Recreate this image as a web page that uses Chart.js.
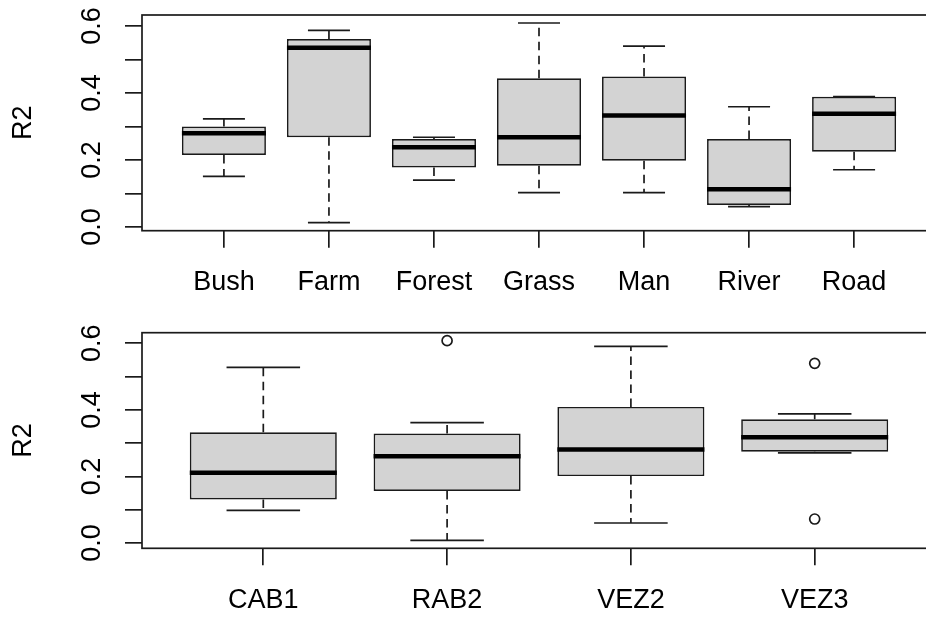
<!DOCTYPE html>
<html>
<head>
<meta charset="utf-8">
<script src="https://cdn.jsdelivr.net/npm/chart.js@4.4.1/dist/chart.umd.min.js"></script>
<style>
  html, body { margin: 0; padding: 0; background: #fff; overflow: hidden; width: 926px; height: 619px; }
  canvas.panel { position: absolute; left: 0; }
</style>
</head>
<body>
<canvas id="habitat" class="panel" width="945" height="310" style="top:0px"></canvas>
<canvas id="site" class="panel" width="945" height="309" style="top:310px"></canvas>
<script>
// R2 summaries by habitat type (whisker ends, quartiles, median)
const habitats    = ['Bush', 'Farm', 'Forest', 'Grass', 'Man', 'River', 'Road'];
const habitatLow  = [0.151, 0.013, 0.140, 0.103, 0.103, 0.061, 0.171];
const habitatQ1   = [0.215, 0.268, 0.178, 0.183, 0.198, 0.066, 0.225];
const habitatMed  = [0.280, 0.535, 0.238, 0.268, 0.333, 0.113, 0.338];
const habitatQ3   = [0.300, 0.561, 0.263, 0.444, 0.449, 0.263, 0.389];
const habitatHigh = [0.323, 0.587, 0.268, 0.609, 0.540, 0.359, 0.389];
const habitatOutlierGroup = [];
const habitatOutlierValue = [];

// R2 summaries by site
const sites    = ['CAB1', 'RAB2', 'VEZ2', 'VEZ3'];
const siteLow  = [0.098, 0.008, 0.060, 0.271];
const siteQ1   = [0.131, 0.156, 0.201, 0.274];
const siteMed  = [0.211, 0.261, 0.281, 0.318];
const siteQ3   = [0.333, 0.329, 0.409, 0.372];
const siteHigh = [0.528, 0.362, 0.591, 0.388];
const siteOutlierGroup = ['RAB2', 'VEZ3', 'VEZ3'];
const siteOutlierValue = [0.608, 0.540, 0.072];

// y axis ticks (every 0.1, labelled every 0.2)
const yTickValues = [0, 0.1, 0.2, 0.3, 0.4, 0.5, 0.6];
const yTickLabels = ['0.0', '', '0.2', '', '0.4', '', '0.6'];

const FONT = "'Liberation Sans', Arial, Helvetica, sans-serif";
const INK = '#1a1a1a';
const LW = 1.7;

// outline of the plotting region
const framePlugin = {
  id: 'frame',
  afterDatasetsDraw(chart) {
    const { ctx, chartArea: a } = chart;
    ctx.save();
    ctx.strokeStyle = INK;
    ctx.lineWidth = LW;
    ctx.strokeRect(a.left, a.top, a.right - a.left, a.bottom - a.top);
    ctx.restore();
  }
};

// half of a width given in x-axis units, in pixels
function halfPx(chart, units) {
  const s = chart.scales.x;
  return Math.abs(s.getPixelForValue(1 + units) - s.getPixelForValue(1));
}

function boxplot(canvasId, groups, low, q1, med, q3, high, outGroup, outValue, layout) {
  const n = groups.length;
  const xMin = 0.5 - 0.04 * n, xMax = n + 0.5 + 0.04 * n;
  const ext = low.concat(high, outValue);
  const dMin = Math.min(...ext), dMax = Math.max(...ext);
  const pad = (dMax - dMin) * 0.04;

  const whiskers = [];
  const caps = [];
  groups.forEach((g, i) => {
    whiskers.push({ x: i + 1, y: q3[i] }, { x: i + 1, y: high[i] }, { x: i + 1, y: null },
                  { x: i + 1, y: q1[i] }, { x: i + 1, y: low[i] }, { x: i + 1, y: null });
    caps.push({ x: i + 1, y: high[i] }, { x: i + 1, y: low[i] });
  });

  const zeroPad = s => { s.paddingLeft = 0; s.paddingRight = 0; s.paddingTop = 0; s.paddingBottom = 0; };

  return new Chart(document.getElementById(canvasId), {
    type: 'bar',
    data: {
      datasets: [
        {
          type: 'scatter', order: 0,
          data: groups.map((g, i) => ({ x: i + 1, y: med[i] })),
          pointStyle: 'line',
          pointRadius: c => halfPx(c.chart, 0.4),
          pointBorderWidth: 4.5,
          pointBorderColor: '#000'
        },
        {
          type: 'scatter', order: 0,
          data: outGroup.map((g, k) => ({ x: groups.indexOf(g) + 1, y: outValue[k] })),
          pointStyle: 'circle',
          pointRadius: 5,
          pointBorderWidth: LW,
          pointBorderColor: INK,
          pointBackgroundColor: 'rgba(0,0,0,0)'
        },
        {
          type: 'bar', order: 1,
          data: groups.map((g, i) => ({ x: i + 1, y: [q1[i], q3[i]] })),
          backgroundColor: '#d3d3d3',
          borderColor: INK,
          borderWidth: LW,
          borderSkipped: false,
          barPercentage: 0.8,
          categoryPercentage: 1.0
        },
        {
          type: 'scatter', order: 2,
          data: caps,
          pointStyle: 'line',
          pointRadius: c => halfPx(c.chart, 0.2),
          pointBorderWidth: LW,
          pointBorderColor: INK
        },
        {
          type: 'line', order: 3,
          data: whiskers,
          showLine: true,
          spanGaps: false,
          borderColor: INK,
          borderWidth: LW,
          borderDash: [8.5, 5.5],
          pointRadius: 0,
          tension: 0,
          fill: false
        }
      ]
    },
    options: {
      responsive: false,
      animation: false,
      events: [],
      devicePixelRatio: 1,
      layout: { padding: { top: layout.top, right: layout.right, bottom: 0, left: 0 } },
      plugins: { legend: { display: false }, tooltip: { enabled: false } },
      scales: {
        x: {
          type: 'linear', min: xMin, max: xMax, offset: false,
          afterBuildTicks: s => { s.ticks = groups.map((g, i) => ({ value: i + 1 })); },
          afterFit: s => { s.height = layout.axisHeight; zeroPad(s); },
          ticks: {
            autoSkip: false, minRotation: 0, maxRotation: 0, padding: 19,
            color: '#000', font: { family: FONT, size: 27 },
            callback: v => groups[Math.round(v) - 1]
          },
          grid: { offset: false, drawOnChartArea: false, drawTicks: true, tickLength: 17, color: INK, lineWidth: LW },
          border: { display: false }
        },
        y: {
          type: 'linear', min: dMin - pad, max: dMax + pad,
          afterBuildTicks: s => { s.ticks = yTickValues.map(v => ({ value: v })); },
          afterFit: s => { s.width = 142; zeroPad(s); },
          ticks: {
            autoSkip: false, minRotation: 90, maxRotation: 90, crossAlign: 'center', padding: 14,
            color: '#000', font: { family: FONT, size: 27 },
            callback: (v, i) => yTickLabels[i]
          },
          grid: { drawOnChartArea: false, drawTicks: true, tickLength: 17, color: INK, lineWidth: LW },
          border: { display: false },
          title: {
            display: true, text: 'R2', color: '#000',
            font: { family: FONT, size: 27, lineHeight: 1.2 },
            padding: { top: 7, bottom: 0 }
          }
        }
      }
    },
    plugins: [framePlugin]
  });
}

boxplot('habitat', habitats, habitatLow, habitatQ1, habitatMed, habitatQ3, habitatHigh,
        habitatOutlierGroup, habitatOutlierValue, { top: 15, right: 9, axisHeight: 79.3 });
boxplot('site', sites, siteLow, siteQ1, siteMed, siteQ3, siteHigh,
        siteOutlierGroup, siteOutlierValue, { top: 22.7, right: 9, axisHeight: 70.7 });
</script>
</body>
</html>
